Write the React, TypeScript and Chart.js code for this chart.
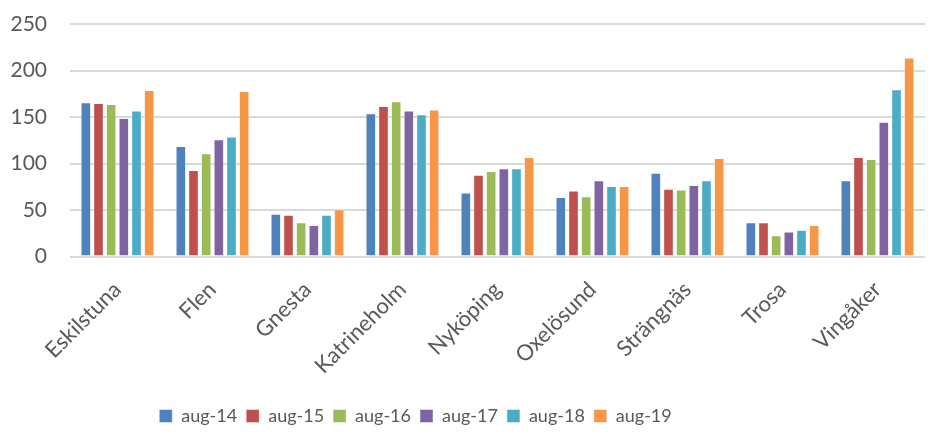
import React, { useEffect, useRef } from "react";
import { Chart, registerables } from "chart.js";

Chart.register(...registerables);

const categories = ["Eskilstuna", "Flen", "Gnesta", "Katrineholm", "Nyköping", "Oxelösund", "Strängnäs", "Trosa", "Vingåker"];
const seriesNames = ["aug-14", "aug-15", "aug-16", "aug-17", "aug-18", "aug-19"];
const aug14 = [166, 119, 46, 154, 69, 64, 90, 37, 82];
const aug15 = [165, 93, 45, 162, 88, 71, 73, 37, 107];
const aug16 = [164, 111, 37, 167, 92, 65, 72, 23, 105];
const aug17 = [149, 126, 34, 157, 95, 82, 77, 27, 145];
const aug18 = [157, 129, 45, 153, 95, 76, 82, 29, 180];
const aug19 = [179, 178, 51, 158, 107, 76, 106, 34, 214];
const colors = ["#4f81bd", "#c0504d", "#9bbb59", "#8064a2", "#4bacc6", "#f79646"];

const legendShift = {
  id: "legendShift",
  afterLayout(chart: any) {
    const lg = chart.legend;
    if (lg) {
      lg.left -= 47;
      lg.right -= 47;
    }
  },
};

export default function App() {
  const ref = useRef<HTMLCanvasElement>(null);
  useEffect(() => {
    if (!ref.current) return;
    const values = [aug14, aug15, aug16, aug17, aug18, aug19];
    const font = "Lato, 'Noto Sans', sans-serif";
    const chart = new Chart(ref.current, {
      type: "bar",
      data: {
        labels: categories,
        datasets: seriesNames.map((n, i) => ({
          label: n,
          data: values[i],
          backgroundColor: colors[i],
          borderColor: "rgba(255,255,255,0.45)",
          borderWidth: 1,
          categoryPercentage: 0.8,
          barPercentage: 0.84,
        })),
      },
      options: {
        animation: false,
        responsive: true,
        maintainAspectRatio: false,
        layout: { padding: { top: 24, right: 18, left: 0, bottom: 8 } },
        plugins: {
          legend: {
            position: "bottom",
            labels: {
              boxWidth: 13,
              boxHeight: 13,
              padding: 9,
              color: "#595959",
              font: { family: font, size: 18 },
            },
          },
          tooltip: { enabled: false },
        },
        scales: {
          x: {
            grid: { display: false },
            border: { display: false },
            ticks: {
              color: "#595959",
              font: { family: font, size: 22 },
              maxRotation: 45,
              minRotation: 45,
              padding: 12,
            },
            afterFit: (s: any) => { s.height += 7; },
          },
          y: {
            min: 0,
            max: 250,
            afterFit: (s: any) => { s.width = 70; s.paddingTop = 0; s.paddingBottom = 0; },
            grid: { color: "#d9d9d9", lineWidth: 2, drawTicks: false },
            border: { display: false },
            ticks: {
              stepSize: 50,
              color: "#595959",
              font: { family: font, size: 21 },
              padding: 23,
            },
          },
        },
      },
      plugins: [legendShift],
    });
    return () => chart.destroy();
  }, []);
  return (
    <div style={{ position: "fixed", left: 0, top: 0, width: 943, height: 443, background: "#fff" }}>
      <canvas ref={ref} />
    </div>
  );
}
